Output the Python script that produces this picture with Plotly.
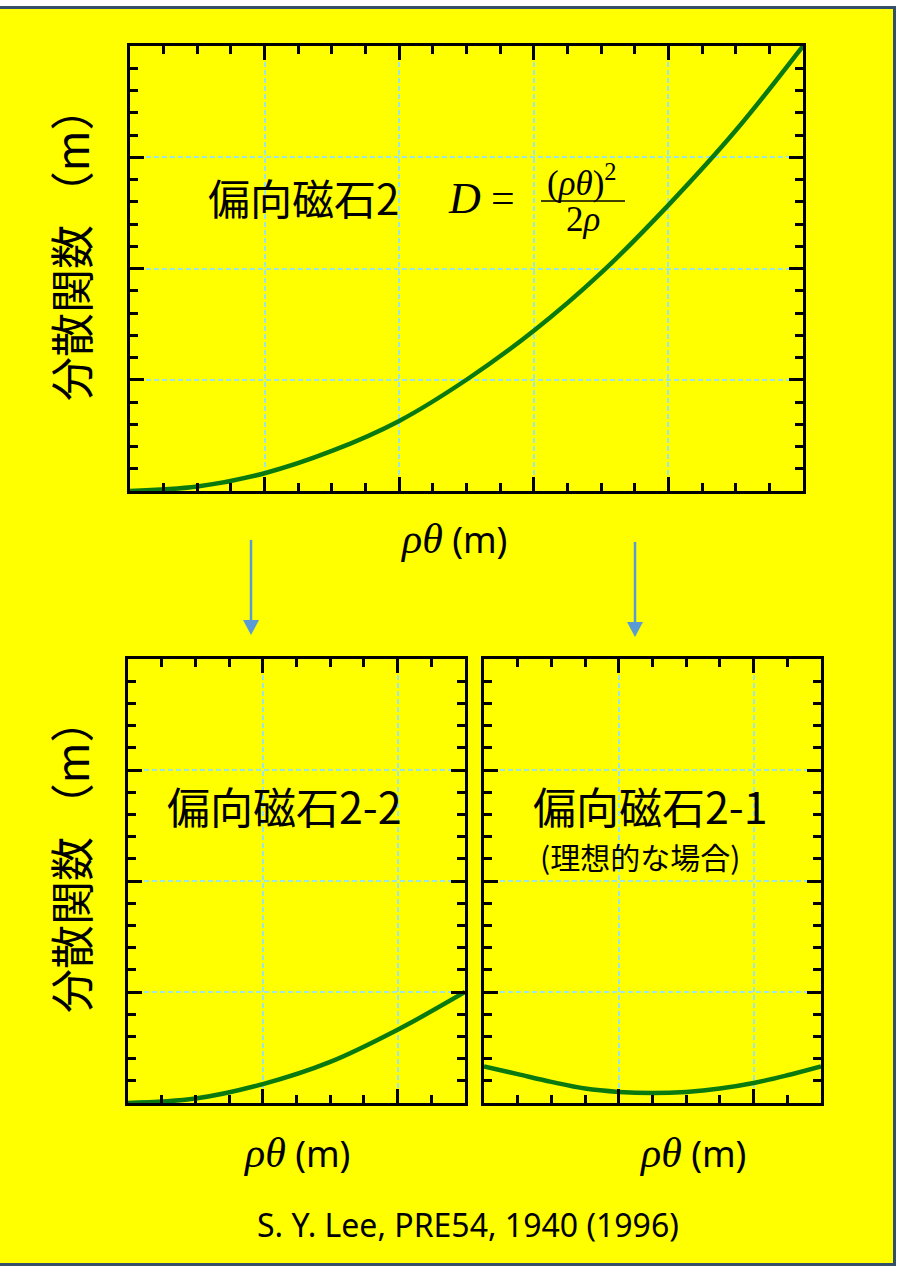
import plotly.graph_objects as go

W, H = 897, 1269

# ---- data ----
top_x = [0, 0.5, 1, 1.5, 2, 2.5, 3, 3.5, 4, 4.5, 5]
top_y = [0, 0.04, 0.16, 0.36, 0.63, 1.0, 1.44, 1.96, 2.57, 3.24, 4.0]

left_x = [0, 0.5, 1, 1.5, 2, 2.5]
left_y = [0, 0.04, 0.17, 0.37, 0.66, 1.0]

right_x = [0, 0.25, 0.5, 0.75, 1, 1.25, 1.5, 1.75, 2, 2.25, 2.5]
right_y = [0.33, 0.26, 0.19, 0.13, 0.10, 0.09, 0.10, 0.13, 0.18, 0.25, 0.33]

title_top = "偏向磁石2"
title_left = "偏向磁石2-2"
title_right = "偏向磁石2-1"
subtitle_right = "(理想的な場合)"
ylabel = "分散関数 （m）"
citation = "S. Y. Lee, PRE54, 1940 (1996)"

CJK = "Noto Sans CJK JP"
SERIF = "Liberation Serif"
GREEN = "#0A7A10"
GRID = "#9EE6E6"
ARROW = "#5B9BD5"


def px(x):
    return x / W


def py(y):
    return 1 - y / H


fig = go.Figure()
for xs, ys, xa, ya in [(top_x, top_y, "x", "y"), (left_x, left_y, "x2", "y2"), (right_x, right_y, "x3", "y3")]:
    fig.add_trace(go.Scatter(x=xs, y=ys, mode="lines", line=dict(color=GREEN, width=4.5, shape="spline"),
                             xaxis=xa, yaxis=ya, showlegend=False, hoverinfo="skip"))


def axis(dom, rng, anchor, minor_dtick):
    return dict(domain=dom, range=rng, anchor=anchor,
                tick0=0, dtick=1, ticks="inside", ticklen=14, tickwidth=2.5, tickcolor="black",
                minor=dict(dtick=minor_dtick, tick0=0, ticks="inside", ticklen=8, tickwidth=2.5,
                           tickcolor="black", showgrid=False),
                showgrid=True, gridcolor=GRID, griddash="5px,3px", gridwidth=1.5,
                showline=True, linewidth=3, linecolor="black", mirror="allticks",
                showticklabels=False, zeroline=False, fixedrange=True)


def xax(d, rng, anchor):
    return axis([px(d[0]), px(d[1])], rng, anchor, 0.25)


def yax(d, rng, anchor):
    return axis([py(d[1]), py(d[0])], rng, anchor, 0.2)


fig.update_layout(
    width=W, height=H, margin=dict(l=0, r=0, t=0, b=0),
    paper_bgcolor="white", plot_bgcolor="rgba(0,0,0,0)", showlegend=False,
    xaxis=xax((130, 803), [0, 5], "y"), yaxis=yax((46, 491), [0, 4], "x"),
    xaxis2=xax((128, 465), [0, 2.5], "y2"), yaxis2=yax((659, 1103), [0, 4], "x2"),
    xaxis3=xax((484, 821), [0, 2.5], "y3"), yaxis3=yax((659, 1103), [0, 4], "x3"),
)

shapes = []
# yellow slide with dark border
shapes.append(dict(type="rect", xref="paper", yref="paper", x0=px(-6), x1=px(894.5), y0=py(1264.5), y1=py(7.5),
                   fillcolor="#FFFF00", line=dict(color="#34506B", width=3), layer="below"))
# fraction bar
shapes.append(dict(type="line", xref="paper", yref="paper", x0=px(541), x1=px(625), y0=py(201), y1=py(201),
                   line=dict(color="black", width=1.5)))
# arrows
for ax_, y0, y1 in [(251, 540, 635), (635, 542, 637)]:
    shapes.append(dict(type="line", xref="paper", yref="paper", x0=px(ax_), x1=px(ax_), y0=py(y0), y1=py(y1 - 12),
                       line=dict(color=ARROW, width=2.5)))
    path = f"M {px(ax_-8)} {py(y1-15)} L {px(ax_+8)} {py(y1-15)} L {px(ax_)} {py(y1)} Z"
    shapes.append(dict(type="path", xref="paper", yref="paper", path=path, fillcolor=ARROW,
                       line=dict(color=ARROW, width=0)))
fig.update_layout(shapes=shapes)


def ann(text, x, y, size, family=CJK, angle=0, xanchor="center"):
    return dict(text=text, x=px(x), y=py(y), xref="paper", yref="paper", showarrow=False,
                xanchor=xanchor, yanchor="middle", textangle=angle,
                font=dict(size=size, family=family, color="black"))


rho_theta = f'<span style="font-family:{SERIF};font-size:42px"><i>ρθ</i></span> (m)'

anns = [
    ann(ylabel, 70, 244, 44, angle=-90),
    ann(ylabel, 70, 856, 44, angle=-90),
    ann(rho_theta, 453, 540, 36, family="Noto Sans"),
    ann(rho_theta, 296, 1153, 36, family="Noto Sans"),
    ann(rho_theta, 692, 1153, 36, family="Noto Sans"),
    ann(citation, 468, 1224, 32, family="Noto Sans"),
    ann(title_top, 303, 196, 42),
    ann("<i>D</i>", 464, 198, 44, family=SERIF),
    ann("=", 503, 198, 42, family=SERIF),
    ann("(<i>ρθ</i>)<sup>2</sup>", 582, 181, 35, family=SERIF),
    ann("2<i>ρ</i>", 583, 219, 35, family=SERIF),
    ann(title_left, 284, 805, 43),
    ann(title_right, 650, 805, 43),
    ann(subtitle_right, 640, 856, 30),
]
fig.update_layout(annotations=anns)

fig.write_html("out.html", config={"displayModeBar": False},
               post_script="document.body.style.margin='0';")
